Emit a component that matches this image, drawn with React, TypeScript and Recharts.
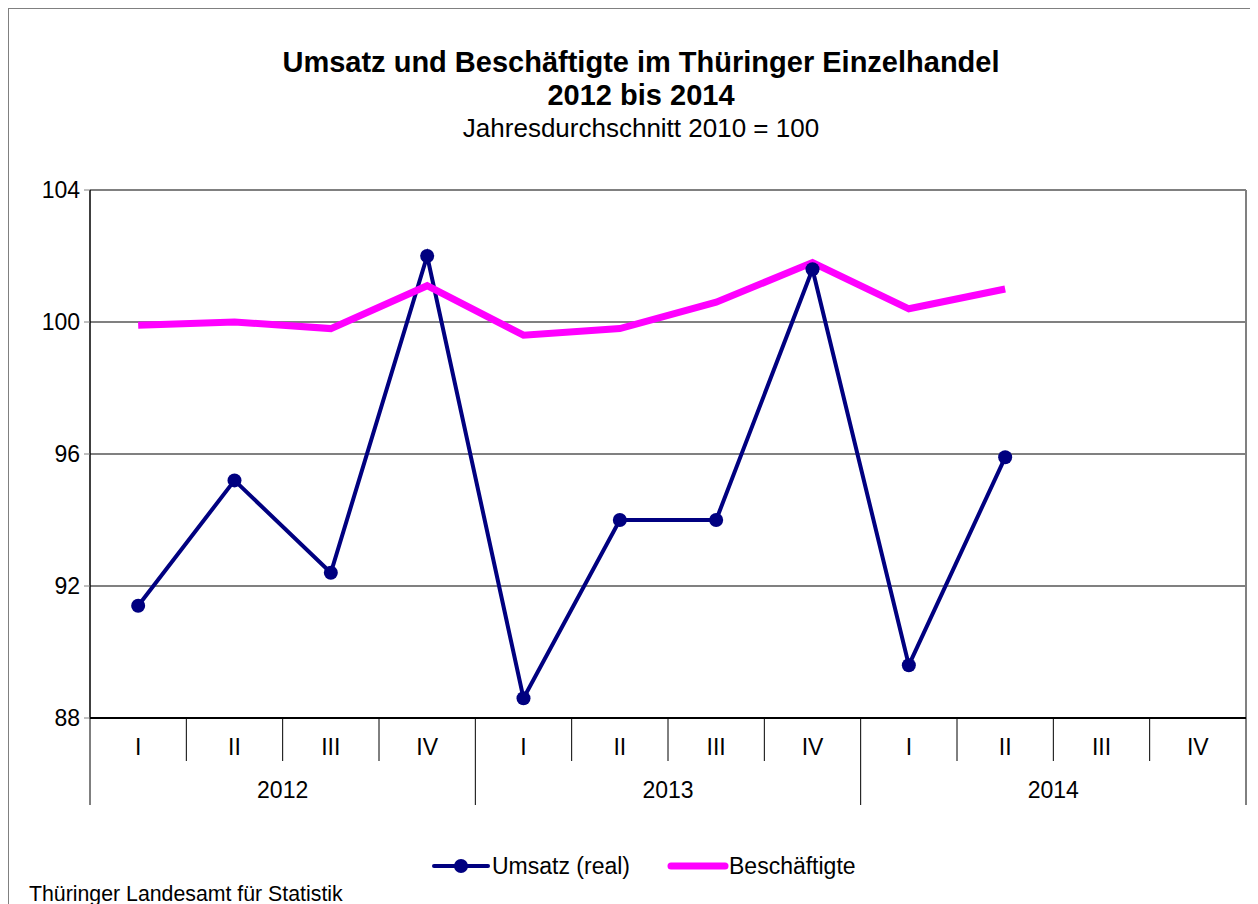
import { LineChart, Line, XAxis, YAxis, CartesianGrid } from "recharts";

const quarters = ["I", "II", "III", "IV", "I", "II", "III", "IV", "I", "II", "III", "IV"];
const years = ["2012", "2013", "2014"];
const umsatz = [91.4, 95.2, 92.4, 102.0, 88.6, 94.0, 94.0, 101.6, 89.6, 95.9, null, null];
const beschaeftigte = [99.9, 100.0, 99.8, 101.1, 99.6, 99.8, 100.6, 101.8, 100.4, 101.0, null, null];
const yTicks = [88, 92, 96, 100, 104];

const FONT = '"Liberation Sans", Arial, sans-serif';
const W = 1264;
const H = 860;
const MARGIN = { top: 181, right: 27, left: 0, bottom: 61 };
const Y_AXIS_W = 81;
const BAND = (W - MARGIN.left - MARGIN.right - Y_AXIS_W) / quarters.length;

const data = quarters.map((q, i) => ({
  key: `${years[Math.floor(i / 4)]}-${q}`,
  umsatz: umsatz[i],
  beschaeftigte: beschaeftigte[i],
}));

const QuarterTick = (props: any) => {
  const { x, y, payload } = props;
  const i = payload.index;
  const left = x - BAND / 2;
  return (
    <g>
      <line x1={left} x2={left} y1={y} y2={y + (i % 4 === 0 ? 87 : 43)} stroke="#000" strokeWidth={1} />
      {i === quarters.length - 1 && (
        <line x1={x + BAND / 2} x2={x + BAND / 2} y1={y} y2={y + 87} stroke="#000" strokeWidth={1} />
      )}
      <text x={x} y={y + 37} textAnchor="middle" fontSize={23} fontFamily={FONT} fill="#000">
        {quarters[i]}
      </text>
      {i % 4 === 1 && (
        <text x={x + BAND / 2} y={y + 80} textAnchor="middle" fontSize={23} fontFamily={FONT} fill="#000">
          {years[Math.floor(i / 4)]}
        </text>
      )}
    </g>
  );
};

export default function App() {
  return (
    <div
      style={{
        position: "relative",
        width: W,
        height: 900,
        border: "1px solid #808080",
        background: "#fff",
        fontFamily: FONT,
      }}
    >
      <svg width={W} height={900} style={{ position: "absolute", left: 0, top: 0 }}>
        <text x={632} y={63} textAnchor="middle" fontSize={29} fontWeight="bold" fontFamily={FONT}>
          Umsatz und Beschäftigte im Thüringer Einzelhandel
        </text>
        <text x={632} y={96} textAnchor="middle" fontSize={29} fontWeight="bold" fontFamily={FONT}>
          2012 bis 2014
        </text>
        <text x={632} y={128} textAnchor="middle" fontSize={26} fontFamily={FONT}>
          Jahresdurchschnitt 2010 = 100
        </text>

        {/* legend */}
        <line x1={425} x2={479} y1={857} y2={857} stroke="#000080" strokeWidth={4} strokeLinecap="round" />
        <circle cx={452} cy={857} r={7} fill="#000080" />
        <text x={483} y={865} fontSize={23} fontFamily={FONT}>Umsatz (real)</text>
        <line x1={662} x2={716} y1={857} y2={857} stroke="#FF00FF" strokeWidth={7} strokeLinecap="round" />
        <text x={720} y={865} fontSize={23} fontFamily={FONT}>Beschäftigte</text>

        <text x={20} y={892} fontSize={21.3} fontFamily={FONT}>Thüringer Landesamt für Statistik</text>
      </svg>

      <div style={{ position: "absolute", left: 0, top: 0 }}>
        <LineChart width={W} height={H} data={data} margin={MARGIN}>
          <CartesianGrid
            stroke="#808080"
            strokeWidth={2}
            vertical={true}
            verticalCoordinatesGenerator={({ offset }: any) => [offset.left + offset.width]}
          />
          <XAxis
            dataKey="key"
            scale="band"
            interval={0}
            tickLine={false}
            tickSize={0}
            tickMargin={0}
            height={90}
            axisLine={{ stroke: "#000", strokeWidth: 2 }}
            tick={<QuarterTick />}
          />
          <YAxis
            domain={[88, 104]}
            ticks={yTicks}
            width={Y_AXIS_W}
            tickSize={6}
            tickMargin={4}
            tickLine={{ stroke: "#808080" }}
            axisLine={{ stroke: "#000", strokeWidth: 1.5 }}
            tick={{ fill: "#000", fontSize: 23, fontFamily: FONT }}
          />
          <Line
            dataKey="umsatz"
            stroke="#000080"
            strokeWidth={4}
            dot={{ r: 7, fill: "#000080", stroke: "#000080", strokeWidth: 0 }}
            activeDot={false}
            isAnimationActive={false}
          />
          <Line
            dataKey="beschaeftigte"
            stroke="#FF00FF"
            strokeWidth={7}
            dot={false}
            activeDot={false}
            isAnimationActive={false}
          />
        </LineChart>
      </div>
    </div>
  );
}
